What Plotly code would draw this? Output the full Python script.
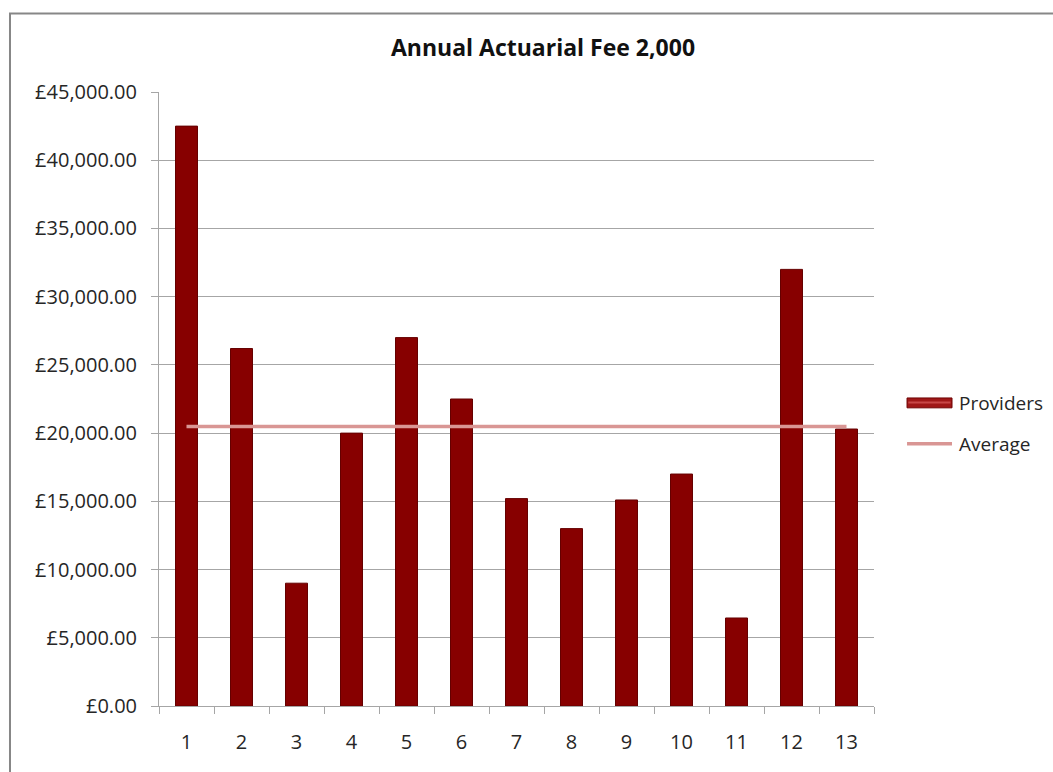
import plotly.graph_objects as go

# Provider fees (GBP) for the 13 providers
providers = ["1", "2", "3", "4", "5", "6", "7", "8", "9", "10", "11", "12", "13"]
fees = [42500, 26200, 9000, 20000, 27000, 22500, 15200, 13000, 15100, 17000, 6450, 32000, 20300]
average_fee = sum(fees) / len(fees)
average_line = [average_fee] * len(providers)

y_ticks = [0, 5000, 10000, 15000, 20000, 25000, 30000, 35000, 40000, 45000]
y_tick_text = ["£0.00", "£5,000.00", "£10,000.00", "£15,000.00", "£20,000.00",
               "£25,000.00", "£30,000.00", "£35,000.00", "£40,000.00", "£45,000.00"]

FONT = "Open Sans, Lato, sans-serif"
TEXT_COL = "#262626"
GRID_COL = "#A6A6A6"
BAR_COL = "#870000"
AVG_COL = "#D99694"

fig = go.Figure()

fig.add_trace(go.Bar(
    x=providers, y=fees, name="Providers",
    marker=dict(color=BAR_COL, line=dict(color="#650000", width=1)),
    showlegend=False,
))
fig.add_trace(go.Scatter(
    x=providers, y=average_line, name="Average", mode="lines",
    line=dict(color=AVG_COL, width=3.5),
    showlegend=False,
))

# Legend drawn as shapes + text to the right of the plot
shapes = [
    # outer chart border
    dict(type="rect", xref="paper", yref="paper",
         x0=-0.2084, x1=1.6, y0=-0.5, y1=1.128,
         line=dict(color="#878787", width=2), fillcolor="rgba(0,0,0,0)", layer="below"),
    # Providers swatch
    dict(type="rect", xref="paper", yref="paper",
         x0=1.0462, x1=1.1091, y0=0.4856, y1=0.5017,
         line=dict(color="#6E0000", width=1), fillcolor="#A01818"),
    dict(type="line", xref="paper", yref="paper",
         x0=1.048, x1=1.107, y0=0.4945, y1=0.4945,
         line=dict(color="#C84848", width=2)),
    # Average swatch
    dict(type="line", xref="paper", yref="paper",
         x0=1.0462, x1=1.1091, y0=0.4270, y1=0.4270,
         line=dict(color=AVG_COL, width=3.5)),
]

annotations = [
    dict(text="Providers", xref="paper", yref="paper", x=1.1161, y=0.4937,
         xanchor="left", yanchor="middle", showarrow=False,
         font=dict(family=FONT, size=19, color=TEXT_COL)),
    dict(text="Average", xref="paper", yref="paper", x=1.1161, y=0.4270,
         xanchor="left", yanchor="middle", showarrow=False,
         font=dict(family=FONT, size=19, color=TEXT_COL)),
]

fig.update_layout(
    width=1053, height=772,
    margin=dict(l=159, r=179, t=92, b=66),
    paper_bgcolor="white", plot_bgcolor="white",
    title=dict(text="<b>Annual Actuarial Fee 2,000</b>",
               x=543 / 1053, xref="container", xanchor="center",
               y=1 - 48 / 772, yref="container", yanchor="middle",
               font=dict(family=FONT, size=23, color="#111111")),
    bargap=0.6,
    showlegend=False,
    shapes=shapes,
    annotations=annotations,
    font=dict(family=FONT, size=20, color=TEXT_COL),
)

fig.update_xaxes(
    type="category",
    showgrid=False,
    showline=True, linecolor=GRID_COL, linewidth=1,
    ticks="outside", tickson="boundaries", ticklen=7, tickcolor=GRID_COL,
    ticklabelstandoff=18,
    tickfont=dict(family=FONT, size=20, color=TEXT_COL),
)
fig.update_yaxes(
    range=[0, 45000],
    tickvals=y_ticks, ticktext=y_tick_text,
    showgrid=True, gridcolor=GRID_COL, gridwidth=1,
    showline=True, linecolor=GRID_COL, linewidth=1,
    ticks="outside", ticklen=7, tickcolor=GRID_COL,
    ticklabelstandoff=10,
    zeroline=False,
    tickfont=dict(family=FONT, size=20, color=TEXT_COL),
)

fig.write_html("out.html")
